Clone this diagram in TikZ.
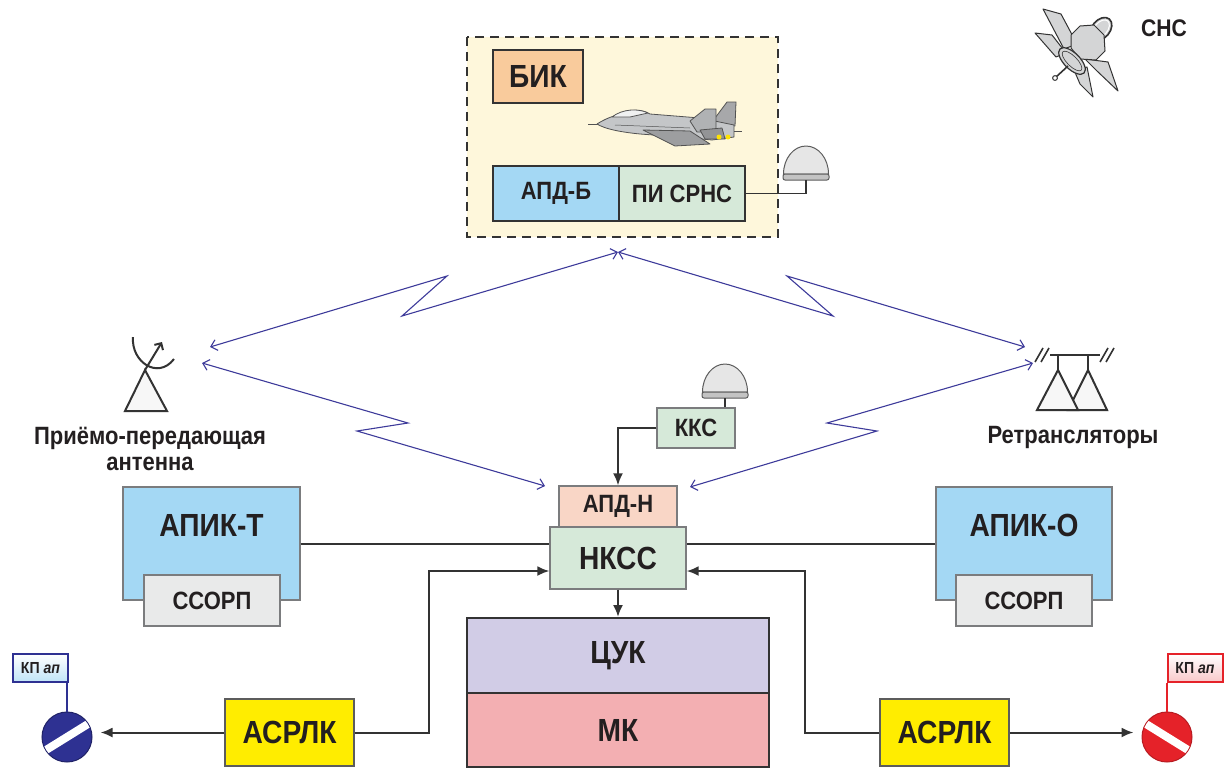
\documentclass[tikz,border=0pt]{standalone}
\usepackage{fontspec}
\setmainfont{Liberation Sans}[FakeStretch=0.88]
\usetikzlibrary{arrows.meta,calc}
\definecolor{ctxt}{HTML}{231F20}
\definecolor{cedge}{HTML}{7B7C7E}
\definecolor{cdark}{HTML}{333333}
\definecolor{cblue}{HTML}{A4D8F4}
\definecolor{cgreen}{HTML}{D6E9D9}
\definecolor{cgray}{HTML}{E9EAEA}
\definecolor{cpeach}{HTML}{F9CB9C}
\definecolor{csalmon}{HTML}{F9D6C6}
\definecolor{clav}{HTML}{D1CCE6}
\definecolor{crose}{HTML}{F3AFB2}
\definecolor{cyel}{HTML}{FFED00}
\definecolor{ccream}{HTML}{FEF7DB}
\definecolor{cradio}{HTML}{3D3A9A}
\definecolor{cnavy}{HTML}{2E3192}
\definecolor{cred}{HTML}{E52229}
\definecolor{cdome}{HTML}{E6E6E6}
\definecolor{cplane}{HTML}{C4C6C8}
\definecolor{csat}{HTML}{D4D5D6}

\tikzset{
  unit/.style={draw=cedge, line width=1.3pt, text=ctxt, inner sep=0pt,
    font=\fontsize{25}{26}\selectfont\bfseries},
  big/.style={font=\fontsize{32}{34}\selectfont\bfseries},
  heavy/.style={draw=cdark, line width=2pt},
  conn/.style={draw=cdark, line width=2pt},
  arr/.style={-{Latex[length=12pt,width=10pt]}},
  radiolink/.style={draw=cradio, line width=1.1pt,
    {Straight Barb[length=6pt,width=11pt]}-{Straight Barb[length=6pt,width=11pt]}},
  caption/.style={text=ctxt, font=\fontsize{25}{26}\selectfont\bfseries, align=center},
  flagbox/.style={line width=2pt, inner sep=0pt, minimum width=55pt, minimum height=28pt,
    text=ctxt, font=\fontsize{16}{17}\selectfont\bfseries},
  symbol/.style={draw=cdark, line width=2pt, line join=miter},
  dome/.pic={
    \draw[fill=cdome, draw=cdark!80, line width=1pt] (-22.5,-6) arc (180:360:22.5 and 28) -- cycle;
    \draw[fill=cdome!85!black, draw=cdark!80, line width=1pt, rounded corners=2pt] (-23,-6) rectangle (23,0);
  },
}

\begin{document}
\begin{tikzpicture}[x=1pt,y=-1pt]
\useasboundingbox (0,0) rectangle (1228,769);

% ---------- on-board complex ----------
\draw[fill=ccream, draw=cdark, line width=2pt, dash pattern=on 9pt off 6pt]
  (467,37) rectangle (778,237);
\node[unit, heavy, big, fill=cpeach, minimum width=90pt, minimum height=53pt] (bik) at (538,76.5) {БИК};
\node[unit, heavy, fill=cblue, minimum width=126pt, minimum height=55pt] (apdb) at (556,193.5) {АПД-Б};
\node[unit, heavy, fill=cgreen, minimum width=126pt, minimum height=55pt] (pisrns) at (682,193.5) {ПИ СРНС};

% aircraft
\begin{scope}[draw=cdark!85, line width=0.8pt, line join=round]
  \draw (588,124) -- (598,124);
  % rear fin
  \filldraw[fill=cplane!85!black] (715,118) -- (727,102) -- (736,102) -- (735,126) -- (716,126) -- cycle;
  % fuselage
  \filldraw[fill=cplane] (597,124) .. controls (605,119) and (612,116) .. (622,114)
     .. controls (630,109) and (642,109) .. (650,114)
     -- (700,118) -- (734,125) -- (734,137) -- (712,140)
     -- (680,137) -- (640,134) .. controls (620,132) and (605,129) .. (597,124) -- cycle;
  % canopy
  \filldraw[fill=white!75!cplane] (612,117) .. controls (622,109) and (638,108) .. (648,113) -- (630,117) -- cycle;
  % wing
  \filldraw[fill=cplane!80!black] (643,130) -- (690,131) -- (710,144) -- (675,146) -- cycle;
  % front fin
  \filldraw[fill=cplane!90!black] (690,121) -- (705,109) -- (716,109) -- (716,132) -- (697,132) -- cycle;
  % stabiliser
  \filldraw[fill=cplane!75!black] (700,130) -- (722,128) -- (725,139) -- (705,139) -- cycle;
  % nozzles
  \draw (734,131) -- (742,131);
  \fill[yellow!85!orange] (719,137) circle (2.5);
  \fill[yellow!85!orange] (728,137) circle (2.5);
  \draw[line width=0.5pt] (615,125) -- (690,128);
\end{scope}

% antenna dome of the satellite navigation receiver
\pic at (806,180) {dome};
\coordinate (dome1) at (806,180);
\draw[conn, line width=1.6pt] (pisrns.east) -| (dome1);

% ---------- ground part ----------
\node[unit, fill=cgreen, minimum width=78pt, minimum height=40pt] (kks) at (696,428) {ККС};
\pic at (725,398) {dome};
\coordinate (dome2) at (725,398);
\draw[conn] (dome2) -- (kks.north -| dome2);

\node[unit, fill=csalmon, minimum width=118pt, minimum height=41pt] (apdn) at (618,506.5) {АПД-Н};
\node[unit, big, fill=cgreen, minimum width=136pt, minimum height=62pt] (nkss) at (618,558) {НКСС};

\node[unit, fill=cblue, minimum width=177pt, minimum height=113pt] (apikt) at (211.5,543.5) {};
\node[text=ctxt, big] at (211.5,525) {АПИК-Т};
\node[unit, fill=cgray, minimum width=136pt, minimum height=51pt] (ssorpl) at (212,600.5) {ССОРП};

\node[unit, fill=cblue, minimum width=176pt, minimum height=113pt] (apiko) at (1024,543.5) {};
\node[text=ctxt, big] at (1024,525) {АПИК-О};
\node[unit, fill=cgray, minimum width=136pt, minimum height=51pt] (ssorpr) at (1024,600.5) {ССОРП};

\node[unit, heavy, big, fill=clav, minimum width=302pt, minimum height=75pt] (cuk) at (618,655.5) {ЦУК};
\node[unit, heavy, big, fill=crose, minimum width=302pt, minimum height=74pt] (mk) at (618,730) {МК};

\node[unit, big, draw=cdark!80, line width=1.5pt, fill=cyel, minimum width=129pt, minimum height=67pt] (asrl) at (289.5,732.5) {АСРЛК};
\node[unit, big, draw=cdark!80, line width=1.5pt, fill=cyel, minimum width=129pt, minimum height=67pt] (asrr) at (944.5,732.5) {АСРЛК};

% command posts
\node[circle, fill=cnavy, draw=cnavy!70!black, line width=1pt, minimum size=50pt, inner sep=0pt] (kpl) at (67,737) {};
\begin{scope}
  \clip (67,737) circle (24.5);
  \draw[white, line width=8pt] (38,755) -- (96,719);
\end{scope}
\node[flagbox, draw=cnavy, top color=white, bottom color=cblue!70] (flagl) at (40.5,668) {КП \textit{ап}};
\draw[cnavy, line width=2pt] (kpl.north) -- (kpl.north |- flagl.south);

\node[circle, fill=cred, draw=cred!80!black, line width=1pt, minimum size=50pt, inner sep=0pt] (kpr) at (1167,737) {};
\begin{scope}
  \clip (1167,737) circle (24.5);
  \draw[white, line width=8pt] (1138,719) -- (1196,755);
\end{scope}
\node[flagbox, draw=cred, top color=white, bottom color=cred!25] (flagr) at (1195,668) {КП \textit{ап}};
\draw[cred, line width=2pt] (kpr.north) -- (kpr.north |- flagr.south);

% wired connections
\draw[conn] (apikt.east) -- (apikt.east -| nkss.west);
\draw[conn] (apiko.west) -- (apiko.west -| nkss.east);
\draw[conn, arr] (kks.west) -| (apdn.north);
\draw[conn, arr] (nkss.south) -- (cuk.north);
\coordinate (jl) at (429,571);
\coordinate (jr) at (805,571);
\draw[conn, arr] (asrl.east) -| (jl) -- (nkss.west |- jl);
\draw[conn, arr] (asrr.west) -| (jr) -- (nkss.east |- jr);
\draw[conn, arr, shorten >=8pt] (asrl.west) -- (kpl.east |- asrl.west);
\draw[conn, arr, shorten >=8pt] (asrr.east) -- (kpr.west |- asrr.east);

% ---------- transmit/receive antenna ----------
\draw[symbol, fill=white!97!black] (145,370) -- (167,411) -- (125,411) -- cycle;
\draw[symbol, -{Straight Barb[length=5pt,width=10pt]}] (145,370) -- (162,342);
\draw[symbol] (133,337) .. controls (131,362) and (158,380) .. (174,359);
\node[caption] at (150,449) {Приёмо-передающая\\антенна};

% ---------- relays ----------
\draw[symbol, fill=white!97!black] (1088,370) -- (1107,410) -- (1068,410) -- cycle;
\draw[symbol, fill=white!97!black] (1058,370) -- (1078,410) -- (1037,410) -- cycle;
\draw[symbol] (1050,355) -- (1100,355);
\draw[symbol] (1058,355) -- (1058,370);
\draw[symbol] (1088,355) -- (1088,370);
\draw[symbol, line width=1.6pt] (1035,362) -- (1043,348) (1041,362) -- (1049,348);
\draw[symbol, line width=1.6pt] (1100,362) -- (1108,348) (1106,362) -- (1114,348);
\node[caption] at (1073,437) {Ретрансляторы};

% ---------- radio links ----------
\coordinate (top) at (618,252);
\coordinate (antA) at (210,347);
\coordinate (antB) at (202,363);
\coordinate (relA) at (1025,347);
\coordinate (relB) at (1033,363);
\coordinate (gndA) at (545,486);
\coordinate (gndB) at (690,487);
\draw[radiolink] (antA) -- (447,276) -- (402,316) -- (top);
\draw[radiolink] (top) -- (833,316) -- (787,276) -- (relA);
\draw[radiolink] (antB) -- (408,423) -- (357,431) -- (gndA);
\draw[radiolink] (gndB) -- (877,431) -- (827,423) -- (relB);

% ---------- navigation satellite ----------
\begin{scope}[draw=cdark, line width=1pt, line join=round, fill=csat]
  % solar panels
  \filldraw (1043,9) -- (1061,14) -- (1077,44) -- (1064,49) -- cycle;
  \filldraw (1035,33) -- (1052,35) -- (1066,53) -- (1056,57) -- cycle;
  \filldraw (1085,59) -- (1108,62) -- (1118,91) -- (1097,71) -- cycle;
  \filldraw (1074,70) -- (1087,67) -- (1093,97) -- (1080,84) -- cycle;
  % dish
  \filldraw[line width=1.6pt, rotate around={-40:(1101,29)}] (1101,29) ellipse (9 and 13);
  \draw[white, line width=1pt, rotate around={-40:(1101,29)}] (1101,29) ellipse (6.5 and 10.5);
  % bus
  \filldraw (1071,35) -- (1080,26) -- (1094,25) -- (1104,35) -- (1105,51) -- (1096,60) -- (1080,59) -- (1071,48) -- cycle;
  % ring
  \filldraw[line width=1.2pt, rotate around={-45:(1072,61)}] (1072,61) ellipse (17 and 8);
  \draw[line width=0.6pt, rotate around={-45:(1072,61)}] (1072,61) ellipse (13 and 5);
  % boom
  \draw[line width=1.6pt] (1068,66) -- (1056,77);
  \filldraw[fill=white] (1055,78) circle (2.4);
\end{scope}
\node[text=ctxt, font=\fontsize{24}{26}\selectfont\bfseries] at (1164,28) {СНС};

\end{tikzpicture}
\end{document}
